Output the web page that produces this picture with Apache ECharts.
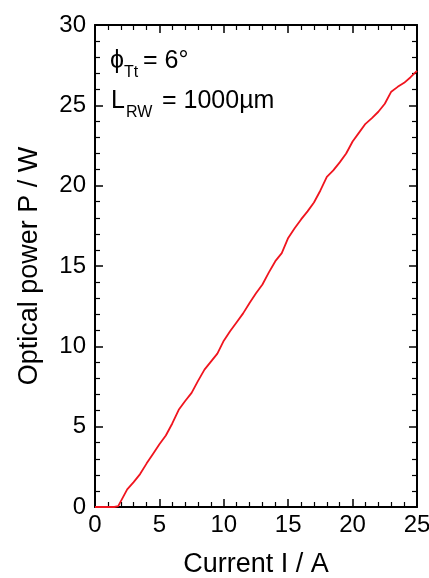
<!DOCTYPE html>
<html>
<head>
<meta charset="utf-8">
<script src="https://cdn.jsdelivr.net/npm/echarts@6/dist/echarts.min.js"></script>
<style>
  html, body { margin: 0; padding: 0; background: #fff; }
  #chart { width: 429px; height: 578px; }
</style>
</head>
<body>
<div id="chart"></div>
<script>
// Measured light-current characteristic
const current = [0, 0.5, 1.0, 1.5, 1.8, 2.0, 2.5, 3.0, 3.5, 4.0, 4.5, 5.0, 5.5, 6.0, 6.5, 7.0, 7.5, 8.0, 8.5, 9.0, 9.5,
  10.0, 10.5, 11.0, 11.5, 12.0, 12.5, 13.0, 13.5, 14.0, 14.5, 15.0, 15.5, 16.0, 16.5, 17.0, 17.5, 18.0, 18.5, 19.0, 19.5,
  20.0, 20.5, 21.0, 21.5, 22.0, 22.5, 23.0, 23.5, 24.0, 24.5, 25.0];
const power = [0, 0, 0, 0, 0.05, 0.35, 1.1, 1.55, 2.05, 2.7, 3.3, 3.9, 4.45, 5.2, 6.05, 6.6, 7.1, 7.85, 8.55, 9.05, 9.55,
  10.35, 10.95, 11.5, 12.05, 12.7, 13.3, 13.85, 14.6, 15.3, 15.8, 16.75, 17.35, 17.9, 18.4, 18.95, 19.7, 20.55, 20.95, 21.45, 22.0,
  22.75, 23.3, 23.85, 24.2, 24.6, 25.1, 25.85, 26.15, 26.4, 26.75, 27.15];
const xTicks = [0, 5, 10, 15, 20, 25];
const yTicks = [0, 5, 10, 15, 20, 25, 30];

const FONT = 'Liberation Sans, Arial, sans-serif';
const chart = echarts.init(document.getElementById('chart'), null, { renderer: 'canvas' });

const axisCommon = {
  axisLine: { show: true, onZero: false, lineStyle: { color: '#000', width: 2 } },
  axisTick: { show: true, inside: true, length: 8, lineStyle: { color: '#000', width: 1.5 } },
  minorTick: { show: true, splitNumber: 5, length: 5, lineStyle: { color: '#000', width: 1.2 } },
  splitLine: { show: false },
  minorSplitLine: { show: false }
};

chart.setOption({
  animation: false,
  backgroundColor: '#fff',
  grid: { left: 95, right: 12, top: 25, bottom: 71, containLabel: false, outerBoundsMode: 'none' },
  xAxis: [
    Object.assign({
      type: 'value', min: xTicks[0], max: xTicks[xTicks.length - 1], interval: 5,
      name: 'Current I / A', nameLocation: 'middle', nameGap: 44,
      nameTextStyle: { fontFamily: FONT, fontSize: 27, color: '#000' },
      axisLabel: { fontFamily: FONT, fontSize: 24, color: '#000', margin: 6 }
    }, axisCommon),
    Object.assign({
      type: 'value', position: 'top', min: xTicks[0], max: xTicks[xTicks.length - 1], interval: 5,
      axisLabel: { show: false }
    }, axisCommon)
  ],
  yAxis: [
    Object.assign({
      type: 'value', min: yTicks[0], max: yTicks[yTicks.length - 1], interval: 5,
      name: 'Optical power P / W', nameLocation: 'middle', nameGap: 52,
      nameTextStyle: { fontFamily: FONT, fontSize: 27, color: '#000' },
      axisLabel: { fontFamily: FONT, fontSize: 24, color: '#000', margin: 9 }
    }, axisCommon),
    Object.assign({
      type: 'value', position: 'right', min: yTicks[0], max: yTicks[yTicks.length - 1], interval: 5,
      axisLabel: { show: false }
    }, axisCommon)
  ],
  series: [{
    type: 'line',
    xAxisIndex: 0,
    yAxisIndex: 0,
    data: current.map((c, i) => [c, power[i]]),
    showSymbol: false,
    lineStyle: { color: '#f0141e', width: 1.8 },
    z: 1
  }],
  graphic: [
    { type: 'text', left: 110, top: 49, style: { text: 'ϕ', font: '25px ' + FONT, fill: '#000' } },
    { type: 'text', left: 124, top: 65, style: { text: 'Tt', font: '16px ' + FONT, fill: '#000' } },
    { type: 'text', left: 143, top: 49, style: { text: '= 6°', font: '25px ' + FONT, fill: '#000' } },
    { type: 'text', left: 111, top: 89, style: { text: 'L', font: '25px ' + FONT, fill: '#000' } },
    { type: 'text', left: 126, top: 105, style: { text: 'RW', font: '16px ' + FONT, fill: '#000' } },
    { type: 'text', left: 162, top: 89, style: { text: '= 1000µm', font: '25px ' + FONT, fill: '#000' } }
  ]
});
</script>
</body>
</html>
